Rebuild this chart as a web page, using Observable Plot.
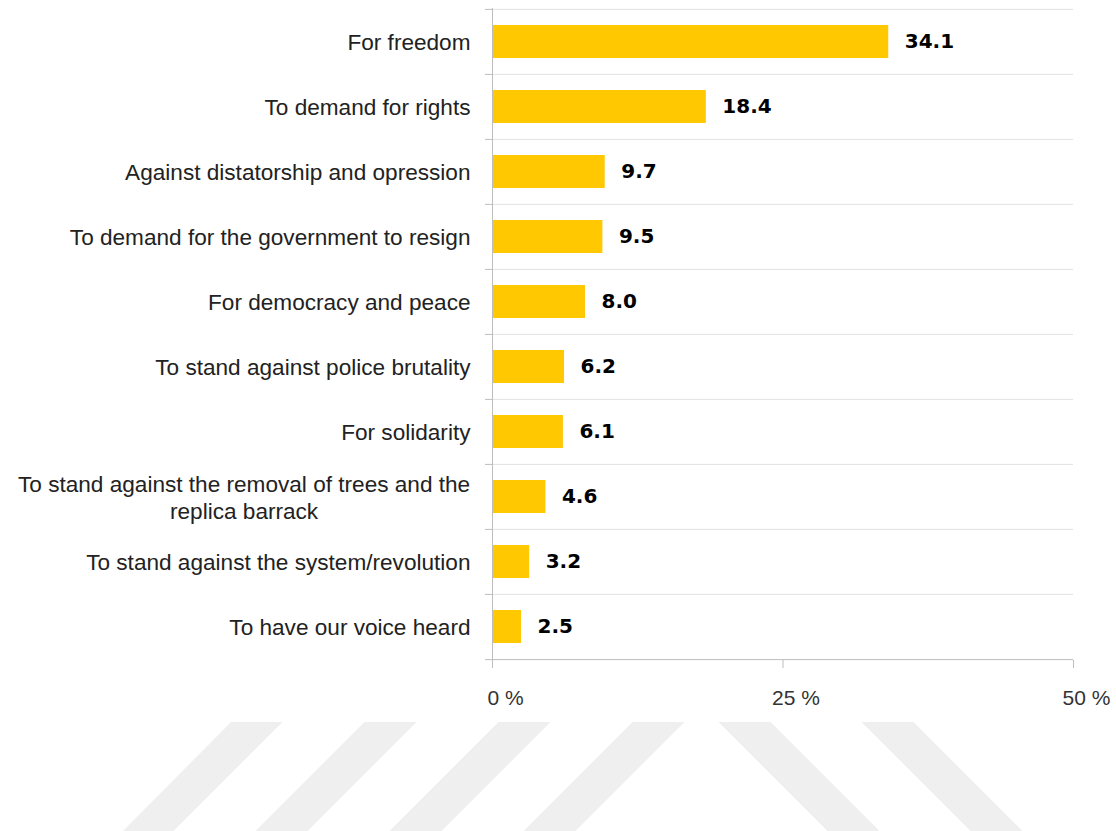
<!DOCTYPE html>
<html>
<head>
<meta charset="utf-8">
<script src="https://cdn.jsdelivr.net/npm/d3@7"></script>
<script src="https://cdn.jsdelivr.net/npm/@observablehq/plot@0.6"></script>
<style>
  html, body { margin: 0; padding: 0; background: #fff; }
  #wrap { position: relative; width: 1116px; height: 831px; overflow: hidden; }
  #chart { position: absolute; left: 0; top: 0; }
  .wm { position: absolute; top: 722px; left: 0; width: 1116px; height: 109px; }
  #wmL {
    background: repeating-linear-gradient(135deg, #efefef 0 9.95px, transparent 9.95px 67.9px, #efefef 67.9px 94.75px);
    clip-path: polygon(123px 109px, 231px 0px, 687px 0px, 578px 109px);
  }
  #wmR {
    background: repeating-linear-gradient(45deg, #efefef 0 15px, transparent 15px 79.3px, #efefef 79.3px 101.1px);
    clip-path: polygon(718px 0px, 915px 0px, 1024px 109px, 827px 109px);
  }
</style>
</head>
<body>
<div id="wrap">
  <div id="wmL" class="wm"></div>
  <div id="wmR" class="wm"></div>
  <div id="chart"></div>
</div>
<script>
const categories = [
  "For freedom",
  "To demand for rights",
  "Against distatorship and opression",
  "To demand for the government to resign",
  "For democracy and peace",
  "To stand against police brutality",
  "For solidarity",
  "To stand against the removal of trees and the replica barrack",
  "To stand against the system/revolution",
  "To have our voice heard"
];
const values = [34.1, 18.4, 9.7, 9.5, 8.0, 6.2, 6.1, 4.6, 3.2, 2.5];
const xTicks = [0, 25, 50];

const data = categories.map((c, i) => ({category: c, value: values[i]}));

const halfStep = 32.6;
const chart = Plot.plot({
  width: 1116,
  height: 720,
  marginLeft: 492,
  marginRight: 43,
  marginTop: 8,
  marginBottom: 60,
  style: {fontFamily: "'Liberation Sans', Arial, sans-serif", background: "transparent"},
  x: {domain: [0, 50], ticks: xTicks, label: null},
  y: {domain: categories, paddingInner: 0.5, paddingOuter: 0.25, label: null},
  marks: [
    // vertical gridlines
    Plot.ruleX([25, 50], {stroke: "#e2e2e2", strokeOpacity: 1, y1: categories[0], y2: categories[categories.length-1], insetTop: -halfStep, insetBottom: -halfStep}),
    // horizontal gridlines at band boundaries
    Plot.ruleY(categories, {y: d => d, x1: 0, x2: 50, dy: -halfStep, stroke: "#e2e2e2"}),
    // small left ticks at band boundaries
    Plot.ruleY(categories, {y: d => d, x1: -0.6, x2: 0, dy: -halfStep, stroke: "#bdbdbd"}),
    Plot.barX(data, {y: "category", x: "value", fill: "#FFC800"}),
    Plot.text(data, {
      y: "category", x: "value", text: d => d.value.toFixed(1),
      textAnchor: "start", dx: 16, fill: "#000",
      fontFamily: "'DejaVu Sans', sans-serif", fontWeight: "bold", fontSize: 20
    }),
    // left axis line
    Plot.ruleX([0], {stroke: "#bdbdbd"}),
    // bottom axis line
    Plot.ruleY([0], {y: () => categories[categories.length-1], x1: -0.6, x2: 50, dy: halfStep, stroke: "#bdbdbd"}),
    Plot.axisX({
      ticks: xTicks, tickSize: 8, tickPadding: 22, stroke: "#bdbdbd",
      tickFormat: d => d + " %", fontSize: 21, color: "#333", anchor: "bottom",
      dx: 13, label: null
    }),
    Plot.axisY({
      tickSize: 0, tickPadding: 22, fontSize: 22.6, color: "#222", label: null,
      tickFormat: d => d.replace(" replica", "\nreplica"), lineHeight: 1.17
    })
  ]
});
document.getElementById("chart").appendChild(chart);

// x-axis tick marks should stay at the tick positions (only the labels are shifted)
chart.querySelectorAll('[aria-label="x-axis tick"] path').forEach(p => {
  const t = p.getAttribute("transform") || "";
  p.setAttribute("transform", t.replace(/translate\(([-\d.]+)/, (m, a) => "translate(" + (parseFloat(a) - 13)));
});

// center multi-line category labels within their block (right edge kept)
chart.querySelectorAll("text").forEach(t => {
  const spans = t.querySelectorAll("tspan");
  if (spans.length > 1) {
    const w = t.getBBox().width;
    t.setAttribute("text-anchor", "middle");
    spans.forEach(s => s.setAttribute("x", -w / 2));
  }
});
</script>
</body>
</html>
